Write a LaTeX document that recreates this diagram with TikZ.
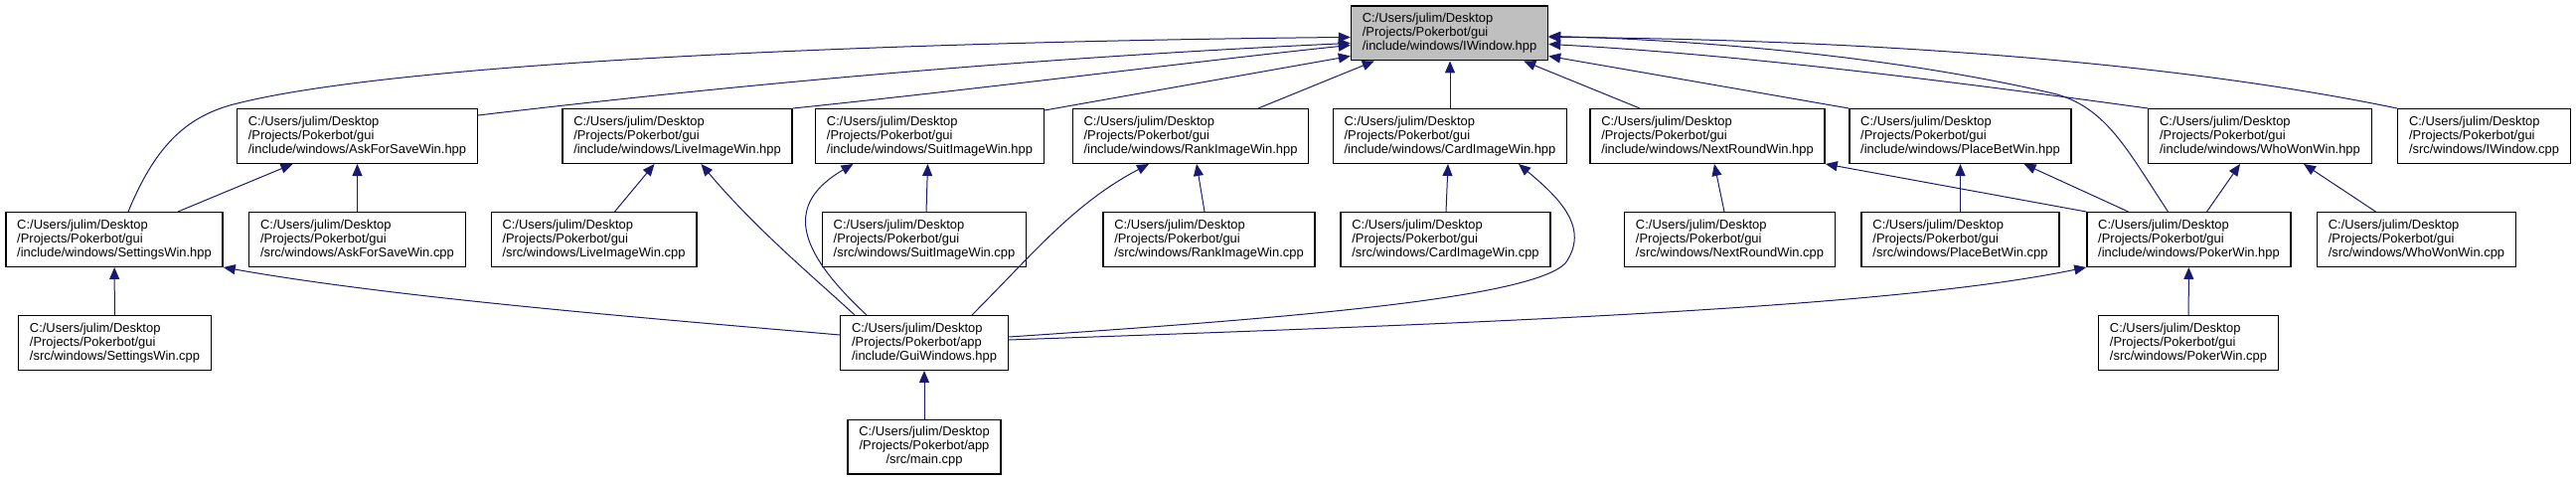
\documentclass[tikz,border=0pt]{standalone}
\usepackage{fontspec}
\setmainfont{Liberation Sans}
\usetikzlibrary{arrows.meta,calc}
\definecolor{edgeblue}{HTML}{191970}
\definecolor{rootgray}{HTML}{BFBFBF}
\begin{document}
\begin{tikzpicture}[x=0.75pt,y=-0.75pt,
  box/.style={draw=black,line width=1pt,fill=white,rectangle,inner xsep=8.5pt,inner ysep=0pt,
    minimum height=41pt,align=left,font=\fontsize{9.7pt}{10.6pt}\selectfont},
  rootbox/.style={box,fill=rootgray},
  edge/.style={draw=edgeblue,line width=0.75pt,-{Triangle[length=9pt,width=7.5pt]}}]
\useasboundingbox (0,0) rectangle (2592,483);
% row 1
\node[rootbox] (iwin) at (1458.5,33.4) {C:/Users/julim/Desktop\\/Projects/Pokerbot/gui\\/include/windows/IWindow.hpp};
% row 2
\node[box] (askH) at (359.5,137) {C:/Users/julim/Desktop\\/Projects/Pokerbot/gui\\/include/windows/AskForSaveWin.hpp};
\node[box] (liveH) at (681.5,137) {C:/Users/julim/Desktop\\/Projects/Pokerbot/gui\\/include/windows/LiveImageWin.hpp};
\node[box] (suitH) at (935.5,137) {C:/Users/julim/Desktop\\/Projects/Pokerbot/gui\\/include/windows/SuitImageWin.hpp};
\node[box] (rankH) at (1198,137) {C:/Users/julim/Desktop\\/Projects/Pokerbot/gui\\/include/windows/RankImageWin.hpp};
\node[box] (cardH) at (1459,137) {C:/Users/julim/Desktop\\/Projects/Pokerbot/gui\\/include/windows/CardImageWin.hpp};
\node[box] (nextH) at (1718,137) {C:/Users/julim/Desktop\\/Projects/Pokerbot/gui\\/include/windows/NextRoundWin.hpp};
\node[box] (placeH) at (1972.5,137) {C:/Users/julim/Desktop\\/Projects/Pokerbot/gui\\/include/windows/PlaceBetWin.hpp};
\node[box] (whoH) at (2274,137) {C:/Users/julim/Desktop\\/Projects/Pokerbot/gui\\/include/windows/WhoWonWin.hpp};
\node[box] (iwinCpp) at (2499.5,137) {C:/Users/julim/Desktop\\/Projects/Pokerbot/gui\\/src/windows/IWindow.cpp};
% row 3
\node[box] (settingsH) at (115,241) {C:/Users/julim/Desktop\\/Projects/Pokerbot/gui\\/include/windows/SettingsWin.hpp};
\node[box] (askCpp) at (359.5,241) {C:/Users/julim/Desktop\\/Projects/Pokerbot/gui\\/src/windows/AskForSaveWin.cpp};
\node[box] (liveCpp) at (597.5,241) {C:/Users/julim/Desktop\\/Projects/Pokerbot/gui\\/src/windows/LiveImageWin.cpp};
\node[box] (suitCpp) at (930,241) {C:/Users/julim/Desktop\\/Projects/Pokerbot/gui\\/src/windows/SuitImageWin.cpp};
\node[box] (rankCpp) at (1216.5,241) {C:/Users/julim/Desktop\\/Projects/Pokerbot/gui\\/src/windows/RankImageWin.cpp};
\node[box] (cardCpp) at (1454.5,241) {C:/Users/julim/Desktop\\/Projects/Pokerbot/gui\\/src/windows/CardImageWin.cpp};
\node[box] (nextCpp) at (1740.5,241) {C:/Users/julim/Desktop\\/Projects/Pokerbot/gui\\/src/windows/NextRoundWin.cpp};
\node[box] (placeCpp) at (1972.5,241) {C:/Users/julim/Desktop\\/Projects/Pokerbot/gui\\/src/windows/PlaceBetWin.cpp};
\node[box] (pokerH) at (2202.5,241) {C:/Users/julim/Desktop\\/Projects/Pokerbot/gui\\/include/windows/PokerWin.hpp};
\node[box] (whoCpp) at (2431.5,241) {C:/Users/julim/Desktop\\/Projects/Pokerbot/gui\\/src/windows/WhoWonWin.cpp};
% row 4
\node[box] (settingsCpp) at (115.5,345) {C:/Users/julim/Desktop\\/Projects/Pokerbot/gui\\/src/windows/SettingsWin.cpp};
\node[box] (guiH) at (930,345) {C:/Users/julim/Desktop\\/Projects/Pokerbot/app\\/include/GuiWindows.hpp};
\node[box] (pokerCpp) at (2202,345) {C:/Users/julim/Desktop\\/Projects/Pokerbot/gui\\/src/windows/PokerWin.cpp};
% row 5
\node[box,align=center] (mainCpp) at (930,449.5) {C:/Users/julim/Desktop\\/Projects/Pokerbot/app\\/src/main.cpp};

% edges to IWindow.hpp
\draw[edge] ($(settingsH.north)+(14,0)$) .. controls (155,150) and (185,118) .. (235,105) .. controls (400,62) and (900,42) .. ($(iwin.west)+(0,4)$);
\draw[edge] ($(askH.north east)+(0,7)$) .. controls (700,90) and (1000,60) .. ($(iwin.west)+(0,10)$);
\draw[edge] (liveH.north east) .. controls (1000,88) and (1200,62) .. ($(iwin.west)+(0,12)$);
\draw[edge] ($(suitH.north east)+(0,2)$) -- ($(iwin.west)+(0,23)$);
\draw[edge] ($(rankH.north)+(68,0)$) -- ($(iwin.south west)+(24,0)$);
\draw[edge] (cardH.north) -- (cardH.north |- iwin.south);
\draw[edge] ($(nextH.north)+(-68,0)$) -- ($(iwin.south east)+(-25,0)$);
\draw[edge] (placeH.north west) -- ($(iwin.east)+(0,23)$);
\draw[edge] (whoH.north west) .. controls (1950,80) and (1750,55) .. ($(iwin.east)+(0,11)$);
\draw[edge] (iwinCpp.north west) .. controls (2200,65) and (1900,40) .. ($(iwin.east)+(0,4)$);
\draw[edge] ($(pokerH.north)+(-21,0)$) .. controls (2140,150) and (2120,110) .. (2070,95) .. controls (1900,55) and (1700,40) .. ($(iwin.east)+(0,3)$);

% level 2
\draw[edge] ($(settingsH.north)+(64,0)$) -- ($(askH.south)+(-65,0)$);
\draw[edge] (askCpp) -- (askH);
\draw[edge] ($(liveCpp.north)+(21,0)$) -- ($(liveH.south)+(-23,0)$);
\draw[edge] ($(guiH.north west)+(15,0)$) .. controls (820,280) and (760,230) .. ($(liveH.south)+(24,0)$);
\draw[edge] ($(guiH.north west)+(27,0)$) .. controls (800,250) and (790,205) .. ($(suitH.south)+(-77,0)$);
\draw[edge] ($(suitCpp.north)+(2,0)$) -- ($(suitH.south)+(-2,0)$);
\draw[edge] ($(guiH.north east)+(-37,0)$) .. controls (1040,255) and (1080,205) .. ($(rankH.south)+(-42,0)$);
\draw[edge] ($(rankCpp.north)+(-4.5,0)$) -- ($(rankH.south)+(6,0)$);
\draw[edge] ($(cardCpp.north)+(0.5,0)$) -- ($(cardH.south)+(-2,0)$);
\draw[edge] ($(guiH.east)+(0,-6)$) .. controls (1300,320) and (1540,300) .. (1575,265) .. controls (1600,230) and (1570,200) .. ($(cardH.south)+(69,0)$);
\draw[edge] ($(guiH.east)+(0,-3)$) .. controls (1500,325) and (1900,310) .. (pokerH.south west);
\draw[edge] ($(guiH.west)+(0,-8)$) .. controls (650,320) and (400,300) .. (settingsH.south east);
\draw[edge] (settingsCpp) -- (settingsH);
\draw[edge] ($(nextCpp.north)+(-5.5,0)$) -- ($(nextH.south)+(7,0)$);
\draw[edge] (pokerH.north west) -- (nextH.south east);
\draw[edge] (placeCpp) -- (placeH);
\draw[edge] ($(pokerH.north)+(-61,0)$) -- ($(placeH.south)+(64,0)$);
\draw[edge] ($(pokerH.north)+(18,0)$) -- ($(whoH.south)+(-20,0)$);
\draw[edge] ($(whoCpp.north)+(-41,0)$) -- ($(whoH.south)+(44,0)$);
\draw[edge] (pokerCpp) -- (pokerH);
\draw[edge] (mainCpp) -- (guiH);
\end{tikzpicture}
\end{document}
